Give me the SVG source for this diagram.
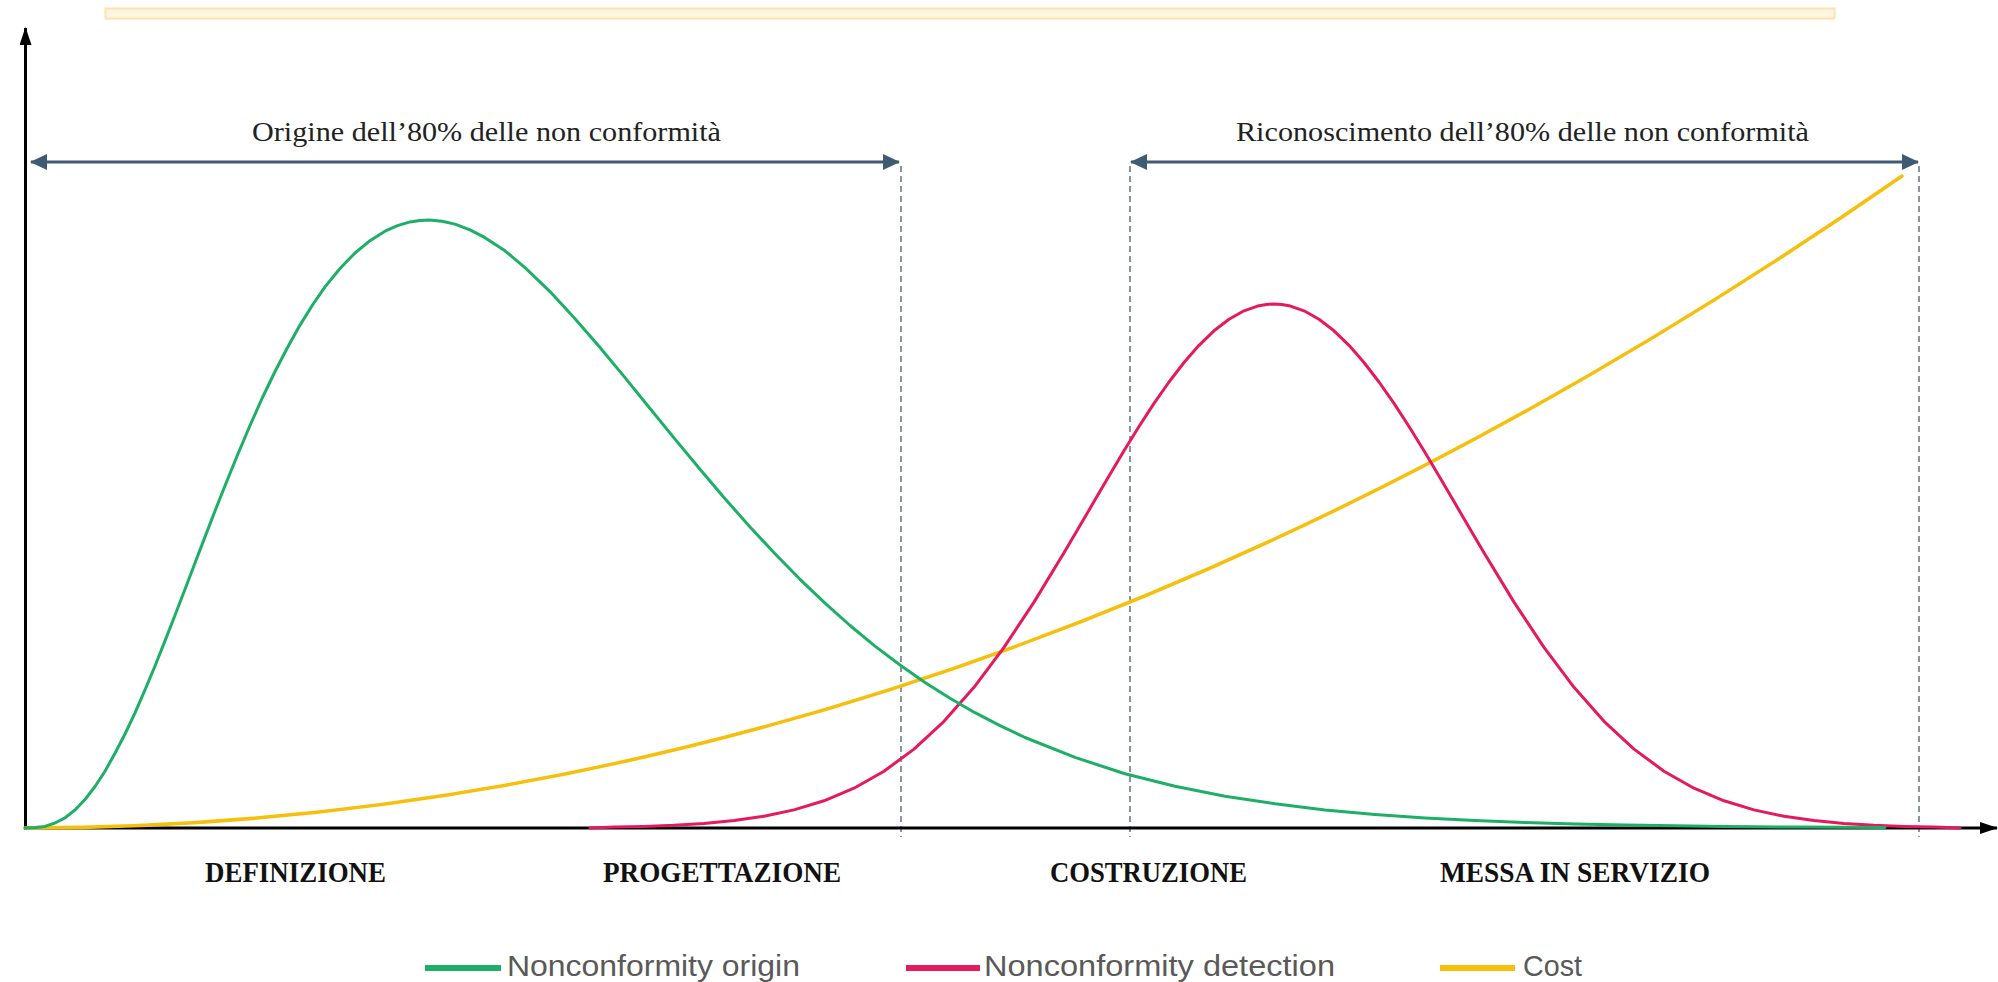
<svg xmlns="http://www.w3.org/2000/svg" width="1998" height="982" viewBox="0 0 1998 982">
<style>
.curve{fill:none;stroke-width:3;stroke-linejoin:round;stroke-linecap:round}
.g{stroke:#1DAF66}
.p{stroke:#E5195D}
.y{stroke:#F6BF0C;stroke-width:3.5}
.dash{stroke:#4A5C6E;stroke-width:1.3;stroke-dasharray:6 4;fill:none}
.span{stroke:#3F5B73;stroke-width:3;fill:none}
.axis{stroke:#000;stroke-width:3;fill:none}
.top{font-family:"Liberation Serif","Times New Roman",serif;font-size:27px;fill:#222}
.phase{font-family:"Liberation Serif","Times New Roman",serif;font-size:29px;font-weight:bold;fill:#111}
.leg{font-family:"Liberation Sans",Arial,sans-serif;font-size:30px;fill:#595959}
.legline{stroke-width:6;fill:none}
</style>
<defs>
<marker id="axArrow" markerUnits="userSpaceOnUse" viewBox="0 0 18 12" refX="17" refY="6" markerWidth="18" markerHeight="12" orient="auto">
<path d="M0,0 L18,6 L0,12 z" fill="#000"/>
</marker>
<marker id="spArrow" markerUnits="userSpaceOnUse" viewBox="0 0 17 16" refX="16" refY="8" markerWidth="17" markerHeight="16" orient="auto-start-reverse">
<path d="M0,0 L17,8 L0,16 z" fill="#3F5B73"/>
</marker>
</defs>
<rect id="topbar" x="105.5" y="8.5" width="1729" height="10" fill="#FFF5E0" stroke="#FCE2AD" stroke-width="2"/>
<g id="connectors">
<line class="dash" x1="901" y1="166" x2="901" y2="837"/>
<line class="dash" x1="1130" y1="166" x2="1130" y2="837"/>
<line class="dash" x1="1919" y1="166" x2="1919" y2="837"/>
<line class="span" x1="31" y1="162" x2="899" y2="162" marker-start="url(#spArrow)" marker-end="url(#spArrow)"/>
<line class="span" x1="1131" y1="162" x2="1918" y2="162" marker-start="url(#spArrow)" marker-end="url(#spArrow)"/>
<line class="axis" x1="25.5" y1="829.5" x2="25.5" y2="28" marker-end="url(#axArrow)"/>
<line class="axis" x1="24" y1="828" x2="1997" y2="828" marker-end="url(#axArrow)"/>
</g>
<g id="cost-curve">
<path class="curve y" d="M25,828 Q963.5,828 1902,176"/>
</g>
<g id="detection-curve">
<polyline class="curve p" points="590,828 614,827.1 644,826.4 674,825.3 704,823.5 734,820.6 764,816.3 794,809.9 824,800.8 854,788.2 884,771.2 914,749.1 944,721.3 974,687.3 1004,647.4 1034,602.1 1064,552.8 1079,527.3 1094,501.6 1109,475.9 1124,450.8 1139,426.5 1154,403.4 1169,382 1184,362.5 1199,345.3 1214,330.8 1229,319.3 1244,310.8 1259,305.7 1266.5,304.4 1274,304 1281.5,304.4 1289,305.7 1304,310.8 1319,319.3 1334,330.8 1349,345.3 1364,362.5 1379,382 1394,403.4 1409,426.5 1424,450.8 1439,475.9 1454,501.6 1469,527.3 1484,552.8 1514,602.1 1544,647.4 1574,687.3 1604,721.3 1634,749.1 1664,771.2 1694,788.2 1724,800.8 1754,809.9 1784,816.3 1814,820.6 1844,823.5 1874,825.3 1904,826.4 1934,827.1 1960,828"/>
</g>
<g id="origin-curve">
<polyline class="curve g" points="25,828 35,827.6 45,826.4 55,823 65,817.9 75,810 85,799.5 95,786.5 105,771.2 115,753.3 125,734 135,712.8 145,689.9 155,666 165,640.9 175,615.3 185,589.2 195,563 205,536.9 215,511 225,485.8 237.5,455 250,425.5 262.5,397.5 275,371.5 287.5,347.5 300,325.1 312.5,305 325,286.9 340,268.5 355,253 370,240.7 385,231.2 397.5,225.6 410,221.9 420,220.4 429,220 442,221.2 455,224.1 470,229.8 485,237.7 505,250.8 525,267.7 550,291.6 575,318.7 600,347.6 625,377.6 650,408.5 675,439.1 700,469.3 725,498.7 750,526.9 775,553.8 800,579.3 825,603.2 850,625.5 875,646.1 900,665 925,682.4 950,698.3 975,712.7 1000,725.7 1025,737.5 1075,757.4 1125,773.7 1175,786.3 1225,796.3 1275,803.8 1325,809.9 1375,814.4 1425,817.9 1475,820.4 1525,822.4 1575,823.9 1625,825 1675,825.8 1725,826.5 1800,827.1 1885,827.5"/>
</g>
<g id="label-origin">
<text class="top" x="252" y="141" textLength="469" lengthAdjust="spacingAndGlyphs">Origine dell’80% delle non conformità</text>
</g>
<g id="label-detection">
<text class="top" x="1236" y="141" textLength="573" lengthAdjust="spacingAndGlyphs">Riconoscimento dell’80% delle non conformità</text>
</g>
<g id="phase-definizione"><text class="phase" x="205" y="882" textLength="181" lengthAdjust="spacingAndGlyphs">DEFINIZIONE</text></g>
<g id="phase-progettazione"><text class="phase" x="603" y="882" textLength="238" lengthAdjust="spacingAndGlyphs">PROGETTAZIONE</text></g>
<g id="phase-costruzione"><text class="phase" x="1050" y="882" textLength="197" lengthAdjust="spacingAndGlyphs">COSTRUZIONE</text></g>
<g id="phase-messa"><text class="phase" x="1440" y="882" textLength="270" lengthAdjust="spacingAndGlyphs">MESSA IN SERVIZIO</text></g>
<g id="legend">
<line class="legline" x1="425" y1="968" x2="501" y2="968" stroke="#1DAF66"/>
<text class="leg" x="507" y="976" textLength="293" lengthAdjust="spacingAndGlyphs">Nonconformity origin</text>
<line class="legline" x1="906" y1="968" x2="980" y2="968" stroke="#E5195D"/>
<text class="leg" x="984" y="976" textLength="351" lengthAdjust="spacingAndGlyphs">Nonconformity detection</text>
<line class="legline" x1="1440" y1="968" x2="1515" y2="968" stroke="#F6BF0C"/>
<text class="leg" x="1523" y="976" textLength="59" lengthAdjust="spacingAndGlyphs">Cost</text>
</g>
</svg>
